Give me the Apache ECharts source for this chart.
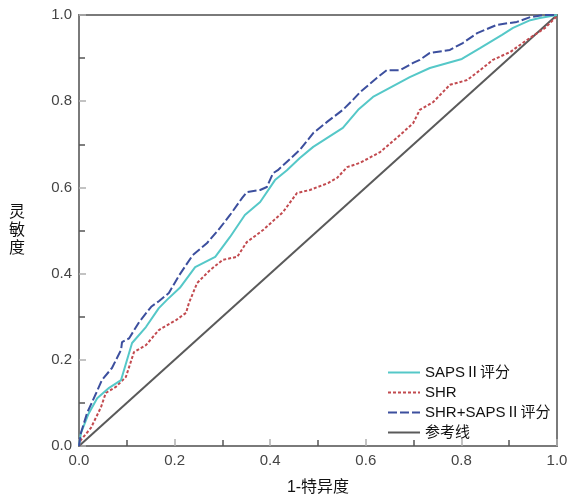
<!DOCTYPE html>
<html>
<head>
<meta charset="utf-8">
<script src="https://cdn.jsdelivr.net/npm/echarts@6/dist/echarts.min.js"></script>
<style>
body{margin:0;background:#fff;}
#roc{width:572px;height:501px;}
</style>
</head>
<body>
<div id="roc"></div>
<script>

// ROC curves, values
var sapsX = [0, 0.004, 0.02, 0.038, 0.063, 0.088, 0.111, 0.14, 0.167, 0.184, 0.211, 0.243, 0.285, 0.316, 0.347, 0.379, 0.41, 0.435, 0.462, 0.49, 0.552, 0.584, 0.615, 0.692, 0.734, 0.801, 0.839, 0.885, 0.908, 0.944, 0.964, 1];
var sapsY = [0, 0.03, 0.075, 0.111, 0.135, 0.153, 0.239, 0.276, 0.32, 0.339, 0.367, 0.415, 0.439, 0.485, 0.536, 0.566, 0.617, 0.64, 0.668, 0.694, 0.738, 0.78, 0.81, 0.856, 0.877, 0.898, 0.923, 0.954, 0.97, 0.988, 0.993, 1];

var shrX = [0, 0.004, 0.025, 0.046, 0.056, 0.077, 0.098, 0.115, 0.14, 0.167, 0.203, 0.224, 0.23, 0.247, 0.274, 0.301, 0.331, 0.351, 0.385, 0.427, 0.456, 0.483, 0.521, 0.54, 0.561, 0.588, 0.63, 0.665, 0.699, 0.713, 0.741, 0.776, 0.812, 0.839, 0.866, 0.902, 0.937, 0.975, 0.996, 1];
var shrY = [0, 0.014, 0.042, 0.09, 0.123, 0.137, 0.16, 0.218, 0.234, 0.269, 0.292, 0.309, 0.332, 0.378, 0.408, 0.432, 0.439, 0.473, 0.501, 0.543, 0.587, 0.594, 0.61, 0.622, 0.647, 0.657, 0.682, 0.715, 0.749, 0.78, 0.798, 0.838, 0.849, 0.872, 0.896, 0.914, 0.942, 0.97, 0.993, 1];

var combX = [0, 0.004, 0.017, 0.036, 0.048, 0.069, 0.088, 0.09, 0.105, 0.126, 0.151, 0.167, 0.188, 0.209, 0.238, 0.268, 0.295, 0.316, 0.341, 0.351, 0.379, 0.393, 0.406, 0.416, 0.462, 0.49, 0.519, 0.552, 0.573, 0.588, 0.623, 0.644, 0.672, 0.699, 0.713, 0.734, 0.776, 0.803, 0.833, 0.874, 0.916, 0.944, 0.971, 1];
var combY = [0, 0.03, 0.077, 0.123, 0.153, 0.181, 0.223, 0.241, 0.25, 0.288, 0.323, 0.336, 0.355, 0.395, 0.443, 0.471, 0.506, 0.536, 0.575, 0.589, 0.594, 0.601, 0.633, 0.64, 0.687, 0.726, 0.752, 0.78, 0.803, 0.821, 0.854, 0.872, 0.872, 0.889, 0.896, 0.912, 0.919, 0.935, 0.958, 0.977, 0.984, 0.995, 1, 1];

var refX = [0, 1];
var refY = [0, 1];

var seriesNames = ['SAPSⅡ评分', 'SHR', 'SHR+SAPSⅡ评分', '参考线'];

function pairs(xs, ys) {
	return xs.map(function (x, i) { return [x, ys[i]]; });
}

var rocChart = echarts.init(document.getElementById('roc'));

var axisCommon = {
	type: 'value',
	min: 0,
	max: 1,
	interval: 0.2,
	nameLocation: 'middle',
	nameTextStyle: { color: '#111', fontSize: 16, fontFamily: 'Liberation Sans, Noto Sans CJK SC' },
	axisLine: { show: true, lineStyle: { color: '#7a7a7a', width: 2 } },
	axisTick: { show: true, inside: true, length: 7, lineStyle: { color: '#b0b0b0', width: 1.5 } },
	minorTick: { show: true, splitNumber: 2, length: 6, lineStyle: { color: '#555', width: 1.5 } },
	axisLabel: {
		color: '#444', fontSize: 15, fontFamily: 'Liberation Sans',
		formatter: function (v) { return v.toFixed(1); }
	},
	splitLine: { show: false }
};

rocChart.setOption({
	backgroundColor: '#fff',
	animation: false,
	grid: {
		left: 79, right: 15, top: 15, bottom: 55,
		outerBoundsMode: 'none',
		show: true, borderColor: '#7a7a7a', borderWidth: 2
	},
	legend: {
		orient: 'vertical',
		left: 385,
		top: 363,
		itemWidth: 32,
		itemHeight: 12,
		itemGap: 5,
		padding: 2,
		itemStyle: { opacity: 0 },
		textStyle: { color: '#111', fontSize: 15, fontFamily: 'Liberation Sans, Noto Sans CJK SC' },
		data: seriesNames
	},
	xAxis: Object.assign({}, axisCommon, {
		name: '1-特异度',
		nameGap: 34,
		axisLabel: Object.assign({}, axisCommon.axisLabel, { margin: 7 })
	}),
	yAxis: Object.assign({}, axisCommon, {
		name: '灵\n敏\n度',
		nameGap: 54,
		nameRotate: 0,
		nameTextStyle: Object.assign({}, axisCommon.nameTextStyle, { lineHeight: 18 }),
		axisLabel: Object.assign({}, axisCommon.axisLabel, { margin: 7 })
	}),
	series: [
		{
			name: seriesNames[0], type: 'line', symbol: 'none', z: 3,
			lineStyle: { color: '#55c8c8', width: 2, type: 'solid' },
			itemStyle: { color: '#55c8c8' },
			data: pairs(sapsX, sapsY)
		},
		{
			name: seriesNames[1], type: 'line', symbol: 'none', z: 2,
			lineStyle: { color: '#c24a4f', width: 2, type: [3, 2] },
			itemStyle: { color: '#c24a4f' },
			data: pairs(shrX, shrY)
		},
		{
			name: seriesNames[2], type: 'line', symbol: 'none', z: 4,
			lineStyle: { color: '#3c4f9e', width: 2, type: [9, 3] },
			itemStyle: { color: '#3c4f9e' },
			data: pairs(combX, combY)
		},
		{
			name: seriesNames[3], type: 'line', symbol: 'none', z: 1,
			lineStyle: { color: '#5a5a5a', width: 2 },
			itemStyle: { color: '#5a5a5a' },
			data: pairs(refX, refY)
		}
	]
});

</script>
</body>
</html>
